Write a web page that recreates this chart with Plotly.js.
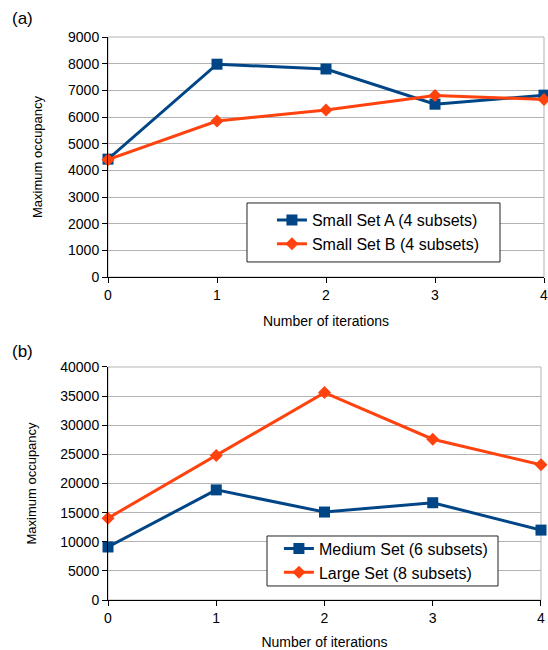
<!DOCTYPE html>
<html><head><meta charset="utf-8">
<script src="https://cdn.plot.ly/plotly-3.0.1.min.js"></script>
<style>body{margin:0;background:#fff}#c{width:548px;height:650px}</style>
</head><body><div id="c"></div>
<script>
const iterations = [0, 1, 2, 3, 4];
const smallSetA = [4420, 7980, 7800, 6480, 6820];
const smallSetB = [4400, 5850, 6260, 6810, 6660];
const mediumSet = [9100, 18900, 15100, 16700, 12000];
const largeSet = [14050, 24800, 35600, 27600, 23200];
const yTicksTop = [0,1000,2000,3000,4000,5000,6000,7000,8000,9000];
const yTicksBottom = [0,5000,10000,15000,20000,25000,30000,35000,40000];

const BLUE = '#004586', ORANGE = '#ff420e';
const F = 'Liberation Sans, Arial, sans-serif';

function tr(y, name, color, sym, size, xa, ya, leg) {
  return {x: iterations, y: y, name: name, type: 'scatter', mode: 'lines+markers',
    line: {color: color, width: 3}, marker: {color: color, symbol: sym, size: size},
    xaxis: xa, yaxis: ya, legend: leg, cliponaxis: false};
}
const data = [
  tr(smallSetA, 'Small Set A (4 subsets)', BLUE, 'square', 11, 'x', 'y', 'legend'),
  tr(smallSetB, 'Small Set B (4 subsets)', ORANGE, 'diamond', 10, 'x', 'y', 'legend'),
  tr(mediumSet, 'Medium Set (6 subsets)', BLUE, 'square', 11, 'x2', 'y2', 'legend2'),
  tr(largeSet, 'Large Set (8 subsets)', ORANGE, 'diamond', 10, 'x2', 'y2', 'legend2')
];
function xax(domain, anchor) {
  return {domain: domain, anchor: anchor, range: [0, 4], tickvals: iterations, ticktext: iterations.map(String),
    showline: true, linecolor: '#000', linewidth: 1, ticks: 'outside', ticklen: 5, tickcolor: '#000',
    showgrid: false, zeroline: false, tickfont: {family: F, size: 14, color: '#000'},
    ticklabeloverflow: 'allow',
    title: {text: 'Number of iterations', font: {family: F, size: 14, color: '#000'}, standoff: 14}};
}
function yax(domain, anchor, ticks, max, standoff) {
  return {domain: domain, anchor: anchor, range: [0, max], tickvals: ticks, ticktext: ticks.map(String),
    showline: true, linecolor: '#000', linewidth: 1, ticks: 'outside', ticklen: 5, tickcolor: '#000',
    showgrid: true, gridcolor: '#b3b3b3', gridwidth: 1, zeroline: false,
    tickfont: {family: F, size: 14, color: '#000'},
    title: {text: 'Maximum occupancy', font: {family: F, size: 13, color: '#000'}, standoff: standoff}};
}
const legendStyle = {bgcolor: 'rgba(0,0,0,0)', borderwidth: 0,
  font: {family: F, size: 16, color: '#000'}, xanchor: 'left', yanchor: 'top', tracegroupgap: 0,
  itemwidth: 30};
const layout = {
  width: 548, height: 650, margin: {l: 108, r: 4, t: 37, b: 50},
  paper_bgcolor: '#fff', plot_bgcolor: '#fff', showlegend: true,
  xaxis: xax([0, 1], 'y'),
  yaxis: yax([0.5737, 1], 'x', yTicksTop, 9000, 22),
  xaxis2: xax([0, 0.9931], 'y2'),
  yaxis2: yax([0, 0.4139], 'x2', yTicksBottom, 40000, 20),
  legend: Object.assign({x: 0.376, y: 0.705}, legendStyle),
  legend2: Object.assign({x: 0.392, y: 0.1215}, legendStyle),
  shapes: [
    {type: 'rect', xref: 'x domain', yref: 'y domain', x0: 0, x1: 1, y0: 0, y1: 1, line: {color: '#b3b3b3', width: 1}, layer: 'below'},
    {type: 'rect', xref: 'x2 domain', yref: 'y2 domain', x0: 0, x1: 1, y0: 0, y1: 1, line: {color: '#b3b3b3', width: 1}, layer: 'below'},
    {type: 'rect', xref: 'paper', yref: 'paper', x0: 0.3188, x1: 0.8991, y0: 0.6004, y1: 0.7052, line: {color: '#222', width: 1}, fillcolor: '#fff', layer: 'above'},
    {type: 'rect', xref: 'paper', yref: 'paper', x0: 0.3647, x1: 0.8945, y0: 0.0249, y1: 0.1137, line: {color: '#222', width: 1}, fillcolor: '#fff', layer: 'above'}
  ],
  annotations: [
    {text: '(a)', xref: 'paper', yref: 'paper', x: -0.225, y: 1.033, xanchor: 'left', yanchor: 'middle', showarrow: false, font: {family: F, size: 17, color: '#000'}},
    {text: '(b)', xref: 'paper', yref: 'paper', x: -0.225, y: 0.441, xanchor: 'left', yanchor: 'middle', showarrow: false, font: {family: F, size: 17, color: '#000'}}
  ]
};
Plotly.newPlot('c', data, layout, {displayModeBar: false, staticPlot: true});
</script></body></html>
